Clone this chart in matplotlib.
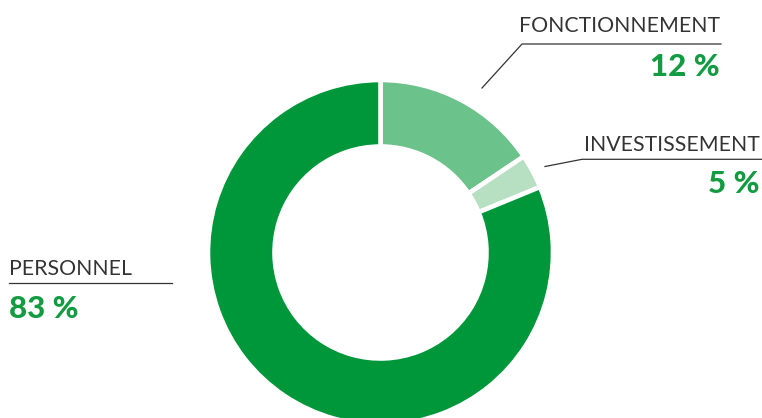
import matplotlib
matplotlib.use("Agg")
import matplotlib.pyplot as plt
from matplotlib import font_manager as fm

# ---- data ----
categories = ["FONCTIONNEMENT", "INVESTISSEMENT", "PERSONNEL"]
shares = [15.6, 3.2, 81.2]          # wedge sizes as drawn in the picture
pct_labels = ["12 %", "5 %", "83 %"]  # labels as printed
colors = ["#6cc28b", "#b7dfc2", "#00963a"]

W, H = 762, 418
fig = plt.figure(figsize=(W / 100, H / 100), dpi=100)
ax = fig.add_axes([0, 0, 1, 1])

cx, cy = 380.5, H - 252.5
R = 172.5
ax.pie(shares, colors=colors, startangle=90, counterclock=False,
       radius=R, center=(cx, cy),
       wedgeprops=dict(width=66.5, edgecolor="white", linewidth=3.3))
ax.set_xlim(0, W)
ax.set_ylim(0, H)
ax.set_aspect("auto")
ax.axis("off")

names = [f.name for f in fm.fontManager.ttflist]
lab_font = "Lato" if "Lato" in names else "DejaVu Sans"
txt_col = "#333333"
green = "#129b40"
line_col = "#333333"
lab_fs = 15.3
pct_fs = 22.5

def Y(py):
    return H - py

# FONCTIONNEMENT
ax.text(720, Y(32.5), categories[0], ha="right", va="baseline",
        fontsize=lab_fs, fontfamily=lab_font, fontweight="normal", color=txt_col)
ax.plot([482, 522, 721], [Y(88), Y(44), Y(44)], color=line_col, lw=0.9)
ax.text(720, Y(75.5), pct_labels[0], ha="right", va="baseline",
        fontsize=pct_fs, fontfamily=lab_font, fontweight="black", color=green)

# INVESTISSEMENT
ax.text(760, Y(151), categories[1], ha="right", va="baseline",
        fontsize=lab_fs, fontfamily=lab_font, fontweight="normal", color=txt_col)
ax.plot([545, 582, 762], [Y(166.5), Y(159.3), Y(159.3)], color=line_col, lw=0.9)
ax.text(760, Y(193), pct_labels[1], ha="right", va="baseline",
        fontsize=pct_fs, fontfamily=lab_font, fontweight="black", color=green)

# PERSONNEL
ax.text(9, Y(275), categories[2], ha="left", va="baseline",
        fontsize=lab_fs, fontfamily=lab_font, fontweight="normal", color=txt_col)
ax.plot([9, 172], [Y(283.3), Y(283.3)], color=line_col, lw=0.9)
ax.text(9, Y(318), pct_labels[2], ha="left", va="baseline",
        fontsize=pct_fs, fontfamily=lab_font, fontweight="black", color=green)

fig.savefig("out.png", dpi=100)
